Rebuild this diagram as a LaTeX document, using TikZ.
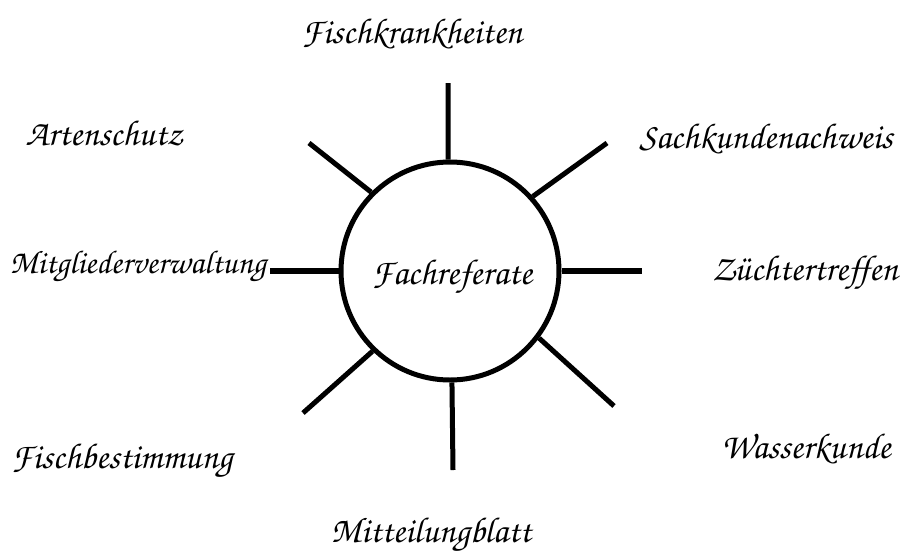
\documentclass[tikz,border=0pt]{standalone}
\usepackage[T1]{fontenc}
\begin{document}
\begin{tikzpicture}[x=1pt,y=-1pt,
  lbl/.style={font=\fontfamily{pzc}\fontseries{mb}\fontshape{it}\fontsize{36}{40}\selectfont, inner sep=0pt, anchor=base},
  spoke/.style={line width=5pt},
  hspoke/.style={line width=6pt},
  hub/.style={circle, draw, line width=5pt, minimum size=218pt, inner sep=0pt}]
\useasboundingbox (0,0) rectangle (908,558);
\node[hub] (c) at (450,271) {};
\node[lbl] (fach) at (452,284) {Fachreferate};
\node[lbl] (fk) at (412,43) {Fischkrankheiten};
\node[lbl] (as) at (104,145) {Artenschutz};
\node[lbl] (sk) at (766,148) {Sachkundenachweis};
\node[lbl, font=\fontfamily{pzc}\fontseries{mb}\fontshape{it}\fontsize{33}{37}\selectfont] (mv) at (138,273) {Mitgliederverwaltung};
\node[lbl] (zt) at (805,280) {Züchtertreffen};
\node[lbl] (fb) at (122,468) {Fischbestimmung};
\node[lbl] (wk) at (806,458) {Wasserkunde};
\node[lbl] (mb) at (431,542) {Mitteilungblatt};
\coordinate (pt) at (448,83);
\coordinate (pul) at (309,143);
\coordinate (pur) at (607,143);
\coordinate (pl) at (270,271);
\coordinate (pr) at (642,271);
\coordinate (pll) at (303,413);
\coordinate (plr) at (614,406);
\coordinate (pb) at (453,470);
\draw[spoke] (c.91) -- (pt);
\draw[spoke] (c.135) -- (pul);
\draw[spoke] (c.42) -- (pur);
\draw[hspoke] (c.180) -- (pl);
\draw[hspoke] (c.0) -- (pr);
\draw[spoke] (c.226) -- (pll);
\draw[spoke] (c.-37) -- (plr);
\draw[spoke] (c.-89) -- (pb);
\end{tikzpicture}
\end{document}
